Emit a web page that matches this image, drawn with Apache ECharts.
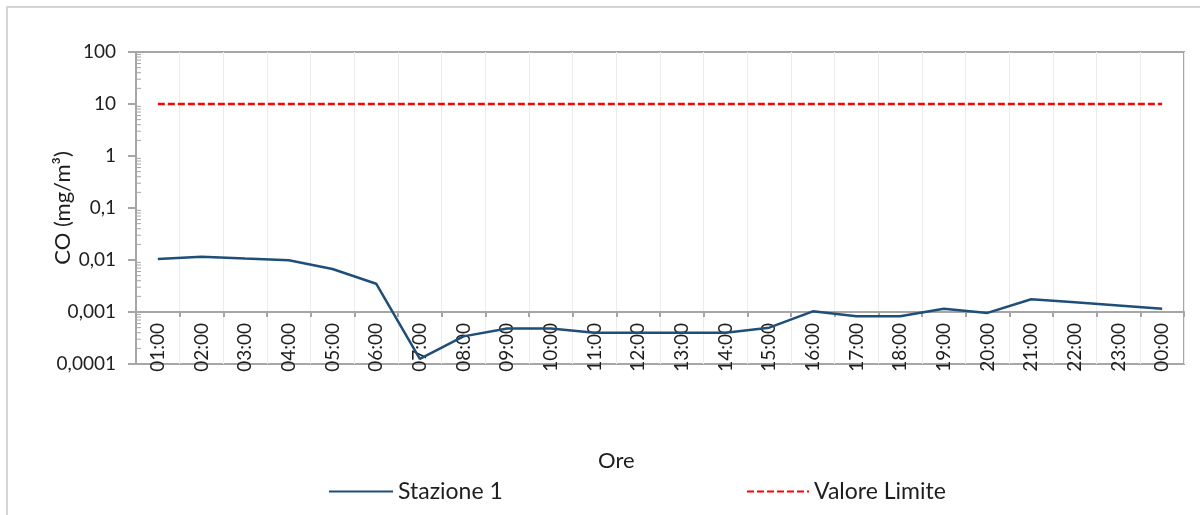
<!DOCTYPE html>
<html>
<head>
<meta charset="utf-8">
<script src="https://cdn.jsdelivr.net/npm/echarts@6/dist/echarts.min.js"></script>
<style>
html,body{margin:0;padding:0;background:#fff;}
#chart{width:1200px;height:515px;}
</style>
</head>
<body>
<div id="chart"></div>
<script>
const hours = ['01:00','02:00','03:00','04:00','05:00','06:00','07:00','08:00','09:00','10:00','11:00','12:00',
               '13:00','14:00','15:00','16:00','17:00','18:00','19:00','20:00','21:00','22:00','23:00','00:00'];
const stazione1 = [0.0105,0.0116,0.0107,0.0099,0.0067,0.0035,0.000126,0.00034,0.00048,0.00048,0.00040,0.00040,
                   0.00040,0.00040,0.00050,0.00103,0.00083,0.00083,0.00116,0.00096,0.00176,0.00154,0.00133,0.00115];
const valoreLimite = [10,10,10,10,10,10,10,10,10,10,10,10,10,10,10,10,10,10,10,10,10,10,10,10];
const decades = [0.0001,0.001,0.01,0.1,1,10];
const minorMultipliers = [2,3,4,5,6,7,8,9];

const minorTicks = [];
decades.forEach(d => minorMultipliers.forEach(m => minorTicks.push([0, +(d*m).toPrecision(3)])));

const FONT = 'Lato';
const TXT = '#1e1e1e';
const AX = '#a6a6a6';

const chart = echarts.init(document.getElementById('chart'), null, {renderer:'canvas'});
chart.setOption({
  animation: false,
  backgroundColor: '#fff',
  textStyle: {fontFamily: FONT},
  grid: {left:136, right:16, top:52, bottom:151, show:true, borderColor:AX, borderWidth:2, outerBoundsMode:'none'},
  graphic: [
    {type:'rect', shape:{x:7,y:7,width:1200,height:520}, style:{fill:'none', stroke:'#c8c8c8', lineWidth:1.5}, silent:true, z:-1},
    {type:'text', left:598, top:450, style:{text:'Ore', font:'22px Lato', fill:TXT}}
  ],
  legend: [
    {data:['Stazione 1'], left:328, top:480, padding:0, itemWidth:64, itemHeight:14, itemGap:6,
     itemStyle:{opacity:0}, textStyle:{fontSize:23, color:TXT, fontFamily:FONT}},
    {data:['Valore Limite'], left:746, top:480, padding:0, itemWidth:62, itemHeight:14, itemGap:6,
     itemStyle:{opacity:0}, textStyle:{fontSize:23, color:TXT, fontFamily:FONT}}
  ],
  xAxis: {
    type:'category', data:hours, boundaryGap:true, position:'bottom', offset:-52,
    axisLine:{show:true, lineStyle:{color:AX, width:2}},
    axisTick:{show:true, length:5, alignWithLabel:false, lineStyle:{color:AX, width:2}},
    axisLabel:{rotate:90, margin:11, fontSize:19, color:TXT, fontFamily:FONT, interval:0},
    splitLine:{show:true, lineStyle:{color:'#ececec', width:1}}
  },
  yAxis: {
    type:'log', logBase:10, min:0.0001, max:100,
    name:'CO (mg/m³)', nameLocation:'middle', nameGap:62, nameRotate:90, nameMoveOverlap:false,
    nameTextStyle:{fontSize:22, color:TXT, fontFamily:FONT},
    axisLine:{show:true, lineStyle:{color:AX, width:2}},
    axisTick:{show:true, length:8, inside:false, lineStyle:{color:AX, width:2}},
    axisLabel:{margin:20, fontSize:19, color:TXT, fontFamily:FONT,
      formatter: v => String(+(+v).toPrecision(6)).replace('.', ',')},
    splitLine:{show:false}
  },
  series: [
    {name:'Stazione 1', type:'line', data:stazione1, symbol:'none', smooth:false,
     lineStyle:{color:'#1f4e79', width:2.5}, itemStyle:{color:'#1f4e79'}, z:5},
    {name:'Valore Limite', type:'line', data:valoreLimite, symbol:'none',
     lineStyle:{color:'#ff0000', width:2.5, type:[7,3]}, itemStyle:{color:'#ff0000'}, z:4},
    {name:'minorTicks', type:'custom', silent:true, data:minorTicks, z:3,
     renderItem:(params, api) => {
       const y = api.coord([0, api.value(1)])[1];
       const x = params.coordSys.x;
       return {type:'line', shape:{x1:x, y1:y, x2:x+5, y2:y}, style:{stroke:AX, lineWidth:1}};
     }}
  ]
});
</script>
</body>
</html>
